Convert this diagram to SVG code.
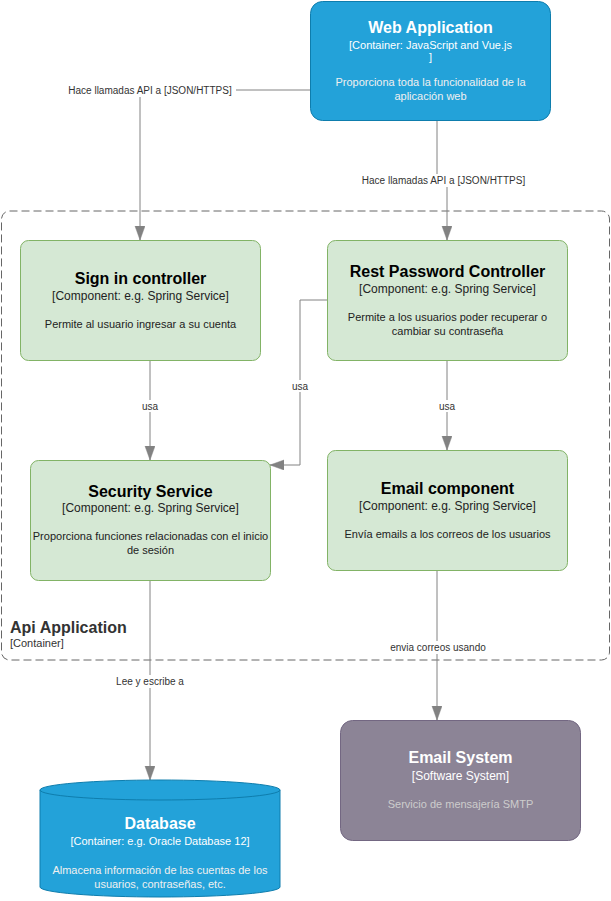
<svg xmlns="http://www.w3.org/2000/svg" width="611" height="901" viewBox="0 0 611 901">
<defs>
<marker id="arr" markerUnits="userSpaceOnUse" markerWidth="15" markerHeight="11" refX="14" refY="5" orient="auto">
<path d="M0,0 L14,5 L0,10 Z" fill="#828282" stroke="#828282" stroke-width="0.5"/>
</marker>
<style>
text{font-family:"Liberation Sans",Arial,sans-serif;text-anchor:middle}
.comp{fill:#d5e8d4;stroke:#82b366;stroke-width:1}
.cont{fill:#23A2D9;stroke:#0E7DAD;stroke-width:1}
.ext{fill:#8C8496;stroke:#736782;stroke-width:1}
.t{font-size:16px;font-weight:bold}
.s{font-size:12px}
.s11{font-size:11px}
.d{font-size:11px}
.dk{fill:#000}
.dk2{fill:#222}
.w{fill:#fff}
.wd{fill:#f0f0f0}
.gd{fill:#cccccc}
.edge{fill:none;stroke:#828282;stroke-width:1;marker-end:url(#arr)}
.lbl{font-size:10px;fill:#333}
.lb{fill:#fff}
</style>
</defs>
<rect width="611" height="901" fill="#fff"/>

<g id="api-boundary">
<rect x="1.5" y="211" width="608" height="449" rx="8" fill="none" stroke="#666" stroke-dasharray="8 4"/>
<text x="10" y="633" style="text-anchor:start" class="t" fill="#333">Api Application</text>
<text x="10" y="647" style="text-anchor:start;font-size:11px" fill="#333">[Container]</text>
</g>

<g id="connectors">
<path class="edge" d="M310,90 H140 V240"/>
<rect class="lb" x="65" y="84" width="171" height="13"/>
<text class="lbl" x="150" y="93.5">Hace llamadas API a [JSON/HTTPS]</text>

<path class="edge" d="M437,120 V180 H447 V240"/>
<rect class="lb" x="358" y="174" width="172" height="13"/>
<text class="lbl" x="443.5" y="183.5">Hace llamadas API a [JSON/HTTPS]</text>

<path class="edge" d="M150,360 V460"/>
<rect class="lb" x="140" y="400" width="20" height="12"/>
<text class="lbl" x="150" y="409.5">usa</text>

<path class="edge" d="M327,300 H300 V465 H270"/>
<rect class="lb" x="290" y="380" width="20" height="12"/>
<text class="lbl" x="300" y="389.5">usa</text>

<path class="edge" d="M447,360 V450"/>
<rect class="lb" x="437" y="400" width="20" height="12"/>
<text class="lbl" x="447" y="409.5">usa</text>

<path class="edge" d="M150,580 V780"/>
<rect class="lb" x="114" y="675" width="72" height="13"/>
<text class="lbl" x="150" y="684.5">Lee y escribe a</text>

<path class="edge" d="M437,570 V720"/>
<rect class="lb" x="386" y="641" width="104" height="13"/>
<text class="lbl" x="438" y="650.5">envia correos usando</text>
</g>

<g id="web-application">
<rect class="cont" x="310.5" y="1.5" width="240" height="119" rx="12"/>
<text class="t w" x="430.5" y="33">Web Application</text>
<text class="s11 w" x="430.5" y="48.5">[Container: JavaScript and Vue.js</text>
<text class="s11 w" x="430.5" y="61">]</text>
<text class="d wd" x="430.5" y="86">Proporciona toda la funcionalidad de la</text>
<text class="d wd" x="430.5" y="100">aplicación web</text>
</g>

<g id="sign-in-controller">
<rect class="comp" x="20.5" y="240.5" width="240" height="120" rx="8"/>
<text class="t dk" x="140.5" y="284">Sign in controller</text>
<text class="s dk2" x="140.5" y="300">[Component: e.g. Spring Service]</text>
<text class="d dk2" x="140.5" y="328">Permite al usuario ingresar a su cuenta</text>
</g>

<g id="rest-password-controller">
<rect class="comp" x="327.5" y="240.5" width="240" height="120" rx="8"/>
<text class="t dk" x="447.5" y="277">Rest Password Controller</text>
<text class="s dk2" x="447.5" y="293">[Component: e.g. Spring Service]</text>
<text class="d dk2" x="447.5" y="321">Permite a los usuarios poder recuperar o</text>
<text class="d dk2" x="447.5" y="335">cambiar su contraseña</text>
</g>

<g id="security-service">
<rect class="comp" x="30.5" y="460.5" width="240" height="120" rx="8"/>
<text class="t dk" x="150.5" y="497">Security Service</text>
<text class="s dk2" x="150.5" y="512">[Component: e.g. Spring Service]</text>
<text class="d dk2" x="150.5" y="540">Proporciona funciones relacionadas con el inicio</text>
<text class="d dk2" x="150.5" y="554">de sesión</text>
</g>

<g id="email-component">
<rect class="comp" x="327.5" y="450.5" width="240" height="120" rx="8"/>
<text class="t dk" x="447.5" y="494">Email component</text>
<text class="s dk2" x="447.5" y="510">[Component: e.g. Spring Service]</text>
<text class="d dk2" x="447.5" y="538">Envía emails a los correos de los usuarios</text>
</g>

<g id="database">
<path class="cont" d="M40,790 A120,10 0 0 1 280,790 V887 A120,10 0 0 1 40,887 Z"/>
<path d="M40,790 A120,10 0 0 0 280,790" fill="none" stroke="#0E7DAD"/>
<text class="t w" x="160" y="829">Database</text>
<text class="s11 w" x="160" y="845">[Container: e.g. Oracle Database 12]</text>
<text class="d wd" x="160" y="874">Almacena información de las cuentas de los</text>
<text class="d wd" x="160" y="888">usuarios, contraseñas, etc.</text>
</g>

<g id="email-system">
<rect class="ext" x="340.5" y="720.5" width="240" height="120" rx="12"/>
<text class="t w" x="460.5" y="763">Email System</text>
<text class="s w" x="460.5" y="780">[Software System]</text>
<text class="d gd" x="460.5" y="808">Servicio de mensajería SMTP</text>
</g>
</svg>
